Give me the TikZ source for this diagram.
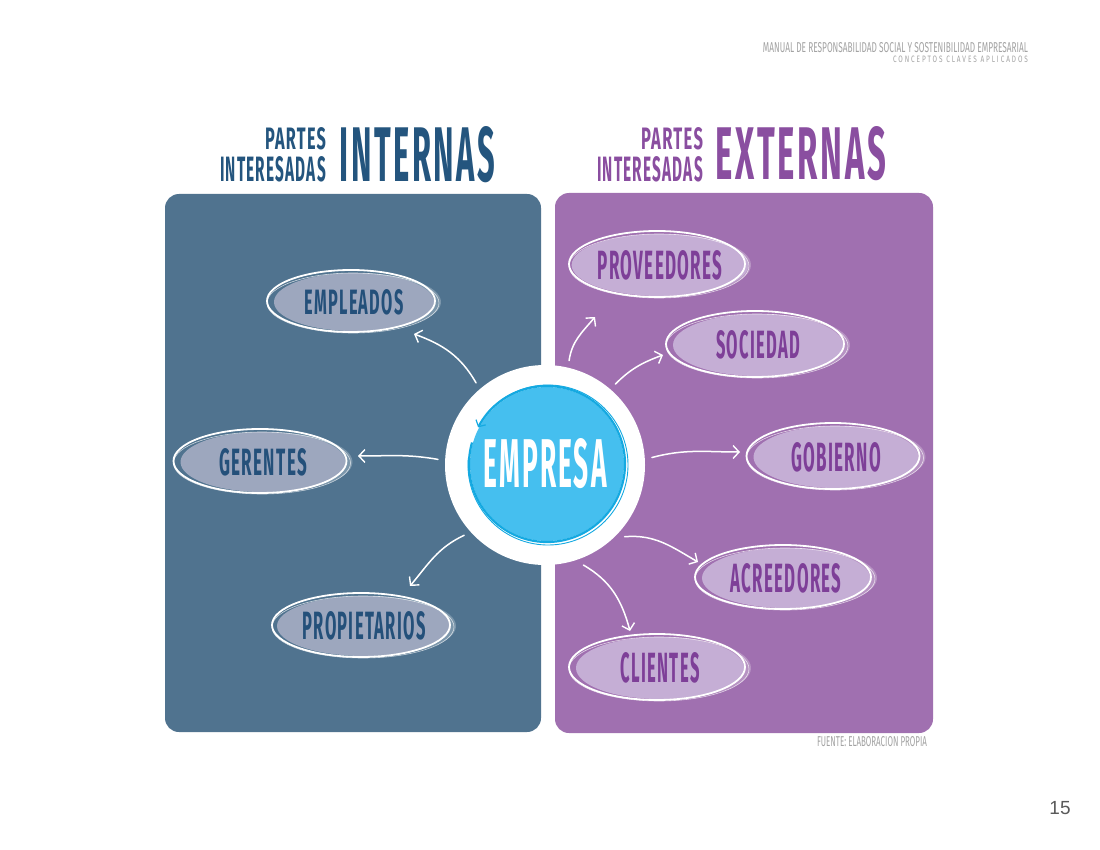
\documentclass[tikz,border=0pt]{standalone}
\usepackage{fontspec}
\usepackage{graphicx}
\setmainfont{Fira Sans}
\newfontfamily\plainfont{Liberation Sans}
\usetikzlibrary{shapes.geometric,arrows.meta,calc}
\definecolor{panelL}{HTML}{50738F}
\definecolor{panelR}{HTML}{A070B0}
\definecolor{ovalLfill}{HTML}{9DA7BE}
\definecolor{ovalRfill}{HTML}{C5AED5}
\definecolor{txtL}{HTML}{24507A}
\definecolor{txtR}{HTML}{7E3F98}
\definecolor{titleL}{HTML}{24557E}
\definecolor{titleR}{HTML}{8A4EA0}
\definecolor{empfill}{HTML}{45BFEF}
\definecolor{empline}{HTML}{14A9E1}
\definecolor{hdr}{HTML}{A3A3A3}
\definecolor{pagenum}{HTML}{5A5A5A}
\newcommand\lbl[3]{\resizebox{#1pt}{#2pt}{\bfseries\addfontfeature{LetterSpace=8}#3}}
\newcommand\lblr[3]{\resizebox{#1pt}{#2pt}{#3}}
% name, x, y, w, h, side, label w, label h, text
\newcommand\ovalnode[9]{%
  \fill[shade#6] ({#2+5},{#3}) ellipse[x radius={#4/2+2}, y radius={#5/2}];
  \node[oval#6, minimum width=#4pt, minimum height=#5pt] (#1) at (#2,#3) {\lbl{#7}{#8}{#9}};
  \draw[sketch] ({#2-3},{#3+1}) ellipse[x radius={#4/2+4}, y radius={#5/2+2}];
  \draw[sketchthin] ({#2-1},{#3-1}) ellipse[x radius={#4/2+6}, y radius={#5/2+1}];
}
\begin{document}
\begin{tikzpicture}[x=1pt,y=1pt,
  panel/.style={rounded corners=14pt},
  ovalL/.style={ellipse, fill=ovalLfill, text=txtL, inner sep=0pt},
  ovalR/.style={ellipse, fill=ovalRfill, text=txtR, inner sep=0pt},
  shadeL/.style={fill=white, fill opacity=0.25},
  shadeR/.style={fill=white, fill opacity=0.25},
  sketch/.style={white, line width=1.8pt},
  sketchthin/.style={white, line width=0.6pt, opacity=0.7},
  ttl/.style={inner sep=0pt},
  arr/.style={white, line width=1.5pt, line cap=round,
    -{Straight Barb[length=6pt,width=13pt,line width=1.4pt]}}
]
\useasboundingbox (0,0) rectangle (1100,-850);
\fill[white] (0,0) rectangle (1100,-850);

% header
\node[ttl, text=hdr] (h1) at (895.5,-48) {\lblr{265}{10}{MANUAL DE RESPONSABILIDAD SOCIAL Y SOSTENIBILIDAD EMPRESARIAL}};
\node[ttl, text=hdr] (h2) at (960.5,-59.5) {\lblr{135}{6.5}{\addfontfeature{LetterSpace=30}CONCEPTOS CLAVES APLICADOS}};

% titles
\node[ttl, text=titleL] (pl1) at (295.5,-138.5) {\lbl{61}{22}{PARTES}};
\node[ttl, text=titleL] (pl2) at (273,-169.5) {\lbl{106}{25}{INTERESADAS}};
\node[ttl, text=titleL] (intl) at (417.5,-154.5) {\lbl{155}{55}{INTERNAS}};
\node[ttl, text=titleR] (pr1) at (672,-138.5) {\lbl{62}{22}{PARTES}};
\node[ttl, text=titleR] (pr2) at (650,-169.5) {\lbl{106}{25}{INTERESADAS}};
\node[ttl, text=titleR] (extr) at (801,-153.5) {\lbl{170}{53}{EXTERNAS}};

% panels
\fill[panelL, panel] (165,-194) rectangle (541,-732);
\fill[panelR, panel] (555,-193) rectangle (933,-733);

% ovals
\ovalnode{empl}{354}{-302}{160}{58}{L}{99}{25}{EMPLEADOS}
\ovalnode{ger}{263}{-462}{165}{60}{L}{88}{27}{GERENTES}
\ovalnode{prop}{364}{-626}{170}{60}{L}{123}{28}{PROPIETARIOS}
\ovalnode{prov}{660}{-265}{168}{62}{R}{125}{29}{PROVEEDORES}
\ovalnode{soc}{758}{-345}{170}{62}{R}{84}{28}{SOCIEDAD}
\ovalnode{gob}{836}{-457}{165}{62}{R}{90}{29}{GOBIERNO}
\ovalnode{acre}{786}{-578}{168}{60}{R}{111}{29}{ACREEDORES}
\ovalnode{cli}{660}{-668}{168}{62}{R}{79}{30}{CLIENTES}

% center
\node[circle, fill=white, minimum size=200pt, inner sep=0pt] (ring) at (545,-465) {};
\node[circle, minimum size=214pt, inner sep=0pt] (hub) at (545,-465) {};
\fill[empfill] (547,-464) circle[radius=77];
\draw[empline, line width=2.2pt, -{Straight Barb[length=5pt,width=11pt,line width=1.2pt]}]
  ($(547,-464)+(164:78)$) arc[start angle=164, end angle=512, radius=78];
\draw[empline, line width=0.9pt] ($(548,-465)+(175:80)$) arc[start angle=175, end angle=500, radius=80];
\node[ttl, text=white] (empresa) at (545,-464) {\lbl{123}{49}{EMPRESA}};

% arrows
\draw[arr] (hub.130) to[out=120, in=-20] ([shift={(60,-32)}]empl.center);
\draw[arr] (hub.177) to[out=170, in=0] ([shift={(95,6)}]ger.center);
\draw[arr] (hub.221) to[out=205, in=50] ([shift={(46,40)}]prop.center);
\draw[arr] (hub.77) to[out=82, in=230] ([shift={(-65,-52)}]prov.center);
\draw[arr] (hub.49) to[out=45, in=200] ([shift={(-95,-10)}]soc.center);
\draw[arr] (hub.4) to[out=15, in=180] ([shift={(-96,5)}]gob.center);
\draw[arr] (hub.-42) to[out=5, in=150] ([shift={(-88,16)}]acre.center);
\draw[arr] (hub.-69) to[out=-30, in=105] ([shift={(-30,37)}]cli.center);

% footer
\node[ttl, text=hdr] (src) at (872,-742) {\lblr{110}{10}{FUENTE: ELABORACION PROPIA}};
\node[inner sep=0pt, text=pagenum, font=\plainfont\fontsize{19}{19}\selectfont] (pg) at (1060,-808) {15};
\end{tikzpicture}
\end{document}
